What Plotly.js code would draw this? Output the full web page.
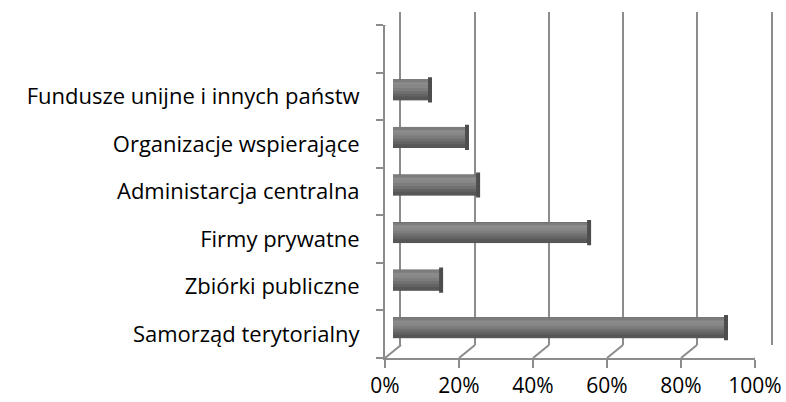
<!DOCTYPE html>
<html>
<head>
<meta charset="utf-8">
<script src="https://cdn.plot.ly/plotly-3.0.1.min.js"></script>
<style>html,body{margin:0;padding:0;background:#fff;}#chart{width:786px;height:402px;}</style>
</head>
<body>
<div id="chart"></div>
<script>
const categories = ["Samorząd terytorialny", "Zbiórki publiczne", "Firmy prywatne", "Administarcja centralna", "Organizacje wspierające", "Fundusze unijne i innych państw"];
const values = [0.90, 0.13, 0.53, 0.23, 0.20, 0.10];
const xTicks = [0, 0.2, 0.4, 0.6, 0.8, 1.0];
const xTickText = ["0%", "20%", "40%", "60%", "80%", "100%"];

const W = 786, H = 402;
const fx = p => p / W;
const fy = p => 1 - p / H;
const FONT = "'Open Sans', 'Noto Sans', sans-serif";
const FRAME = "#8c8c8c";

const pos = categories.map((c, i) => i);

// cylinder shading: strips from top to bottom
const stripColors = ["#7c7c7c", "#8b8b8b", "#878787", "#7d7d7d", "#707070", "#636363", "#575757"];
const barWidth = 0.42;
const stripW = barWidth / stripColors.length;

const traces = [
  { type: "scatter", mode: "markers", x: [0], y: [0], xaxis: "x2", yaxis: "y2",
    marker: { opacity: 0 }, hoverinfo: "skip" },
  { type: "bar", orientation: "h", x: values, y: pos, xaxis: "x3", yaxis: "y3",
    width: barWidth, marker: { color: "#5c5c5c", line: { color: "#4a4a4a", width: 1 } }, hoverinfo: "skip" }
];
stripColors.forEach((c, i) => {
  traces.push({ type: "bar", orientation: "h", x: values, y: pos, xaxis: "x3", yaxis: "y3",
    width: stripW + 0.012, offset: barWidth / 2 - (i + 1) * stripW - 0.004,
    marker: { color: c, line: { width: 0 } }, hoverinfo: "skip" });
});
traces.push({ type: "scatter", mode: "markers", x: values, y: pos, xaxis: "x3", yaxis: "y3",
  marker: { symbol: "line-ns", size: 18, color: "#4d4d4d", line: { color: "#4d4d4d", width: 4 } }, hoverinfo: "skip" });

const shapes = [];
xTicks.forEach(v => {
  shapes.push({ type: "line", xref: "x", yref: "y", xsizemode: "pixel", ysizemode: "pixel",
    xanchor: v, yanchor: -0.5, x0: 0, x1: 16, y0: 0, y1: 13, line: { color: FRAME, width: 2 } });
});
shapes.push({ type: "line", xref: "x", yref: "y", xsizemode: "pixel", ysizemode: "pixel",
  xanchor: 0, yanchor: 6.5, x0: 0, x1: 16, y0: 0, y1: 13, line: { color: FRAME, width: 2 } });

const layout = {
  width: W, height: H,
  margin: { l: 0, r: 0, t: 0, b: 0 },
  paper_bgcolor: "#fff", plot_bgcolor: "rgba(0,0,0,0)",
  showlegend: false, barmode: "overlay",
  font: { family: FONT, size: 22, color: "#000" },
  xaxis: { domain: [fx(385), fx(755)], range: [0, 1], anchor: "y",
    showline: true, linecolor: FRAME, linewidth: 2, showgrid: false, zeroline: false,
    tickmode: "array", tickvals: xTicks, ticktext: xTickText, tickfont: { size: 21 },
    ticks: "outside", ticklen: 8, tickwidth: 2, tickcolor: FRAME, ticklabelstandoff: 0 },
  yaxis: { domain: [fy(358), fy(25)], range: [-0.5, 6.5], anchor: "x",
    showline: true, linecolor: FRAME, linewidth: 2, showgrid: false, zeroline: false,
    tickmode: "array", tickvals: pos, ticktext: categories, ticks: "",
    ticklabelstandoff: 19,
    minor: { tickmode: "linear", tick0: -0.5, dtick: 1, ticks: "outside", ticklen: 7, tickwidth: 2, tickcolor: FRAME, showgrid: false } },
  xaxis2: { domain: [fx(401), fx(771)], range: [0, 1], anchor: "y2",
    showline: false, showgrid: true, gridcolor: FRAME, gridwidth: 2, dtick: 0.2, tick0: 0,
    showticklabels: false, ticks: "", zeroline: false },
  yaxis2: { domain: [fy(345), fy(12)], range: [-0.5, 6.5], anchor: "x2",
    showline: true, mirror: true, linecolor: FRAME, linewidth: 2, showgrid: false,
    showticklabels: false, ticks: "", zeroline: false },
  xaxis3: { domain: [fx(393), fx(763)], range: [0, 1], anchor: "y3",
    visible: false, fixedrange: true },
  yaxis3: { domain: [fy(351.5), fy(18.5)], range: [-0.5, 6.5], anchor: "x3",
    visible: false, fixedrange: true },
  shapes: shapes
};

Plotly.newPlot("chart", traces, layout, { staticPlot: true, displayModeBar: false });
</script>
</body>
</html>
